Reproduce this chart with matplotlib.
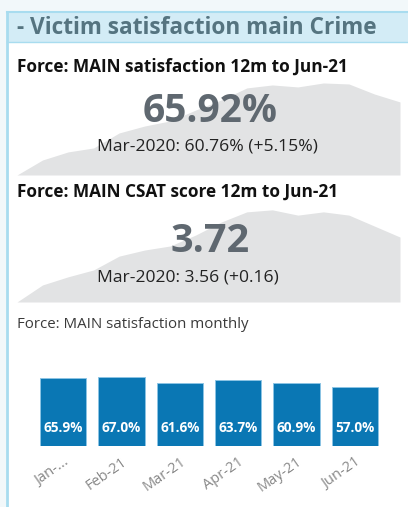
import numpy as np
import matplotlib.pyplot as plt
from matplotlib.patches import Rectangle

plt.rcParams["font.family"] = ["Open Sans", "DejaVu Sans"]

W, H = 408, 507

# rolling 12m satisfaction sparkline (Mar-20 .. Jun-21)
spark_sat = [60.76, 61.82, 62.39, 62.67, 63.73, 64.22, 64.58, 65.35,
             66.06, 66.91, 67.12, 66.98, 67.26, 67.19, 66.48, 65.92]
# rolling 12m CSAT score sparkline
spark_csat = [3.560, 3.602, 3.622, 3.639, 3.673, 3.688, 3.698, 3.725,
              3.757, 3.782, 3.787, 3.774, 3.782, 3.774, 3.747, 3.720]

months = ["Jan-...", "Feb-21", "Mar-21", "Apr-21", "May-21", "Jun-21"]
monthly_sat = [65.9, 67.0, 61.6, 63.7, 60.9, 57.0]


def px(x, y, w=0, h=0):
    """pixel box (top-left origin) -> figure fraction rect"""
    return [x / W, 1 - (y + h) / H, w / W, h / H]


fig = plt.figure(figsize=(W / 100, H / 100), dpi=100, facecolor="#f2f8fa")

# panel background, header band and left border
bg = fig.add_axes([0, 0, 1, 1])
bg.set_xlim(0, W)
bg.set_ylim(H, 0)
bg.axis("off")
bg.add_patch(Rectangle((7, 12), W - 7, H - 12, facecolor="white", edgecolor="none"))
bg.add_patch(Rectangle((7, 12), W - 7, 30, facecolor="#d3ecf6", edgecolor="none"))
bg.plot([7, 7], [12, H], color="#a8dcef", lw=2)
bg.plot([7, W], [12, 12], color="#a8dcef", lw=1.5)
bg.plot([7, W], [42, 42], color="#a8dcef", lw=1)

# sparklines
for vals, top, bottom, lo, hi in [
    (spark_sat, 80, 175, 60.76, 67.47),
    (spark_csat, 207, 302, 3.56, 3.794),
]:
    ax = fig.add_axes(px(17, top, 383, bottom - top))
    x = np.arange(len(vals))
    ax.fill_between(x, lo, vals, color="#e2e3e4", lw=0)
    ax.set_xlim(0, len(vals) - 1)
    ax.set_ylim(lo, hi)
    ax.axis("off")


def txt(x, y, s, **kw):
    fig.text(x / W, 1 - y / H, s, va="center", **kw)


txt(17, 28, "- Victim satisfaction main Crime", fontsize=16.3,
    fontweight="bold", color="#557480")

txt(17, 67, "Force: MAIN satisfaction 12m to Jun-21", fontsize=12.4,
    fontweight="bold", color="#111111")
txt(210, 111, "65.92%", fontsize=28, fontweight="bold", color="#5f6870",
    ha="center")
txt(97, 147, "Mar-2020: 60.76% (+5.15%)", fontsize=12.6, color="#222222")

txt(17, 192, "Force: MAIN CSAT score 12m to Jun-21", fontsize=12.4,
    fontweight="bold", color="#111111")
txt(210, 241, "3.72", fontsize=28.5, fontweight="bold", color="#5f6870",
    ha="center")
txt(97, 277, "Mar-2020: 3.56 (+0.16)", fontsize=12.6, color="#222222")

txt(17, 325, "Force: MAIN satisfaction monthly", fontsize=10.8, color="#3a3a3a")

# monthly bar chart
bax = fig.add_axes(px(34, 343, 350, 103))
pos = np.arange(len(months))
bars = bax.bar(pos, monthly_sat, width=0.79, color="#0a77b4",
               edgecolor="#8cc4e4", linewidth=0.7)
for p, v in zip(pos, monthly_sat):
    bax.text(p, 17, f"{v:.1f}%", ha="center", va="center", color="white",
             fontsize=9.8, fontweight="bold")
bax.set_ylim(0, 100)
bax.set_xlim(-0.5, len(months) - 0.5)
bax.set_xticks(pos)
bax.set_xticklabels(months, rotation=35, ha="right", va="top",
                    rotation_mode="anchor", color="#888888", fontsize=10.5)
bax.tick_params(axis="x", length=0, pad=6)
bax.set_yticks([])
for s in bax.spines.values():
    s.set_visible(False)
bax.patch.set_alpha(0)

fig.savefig("out.png", dpi=100, facecolor=fig.get_facecolor())
